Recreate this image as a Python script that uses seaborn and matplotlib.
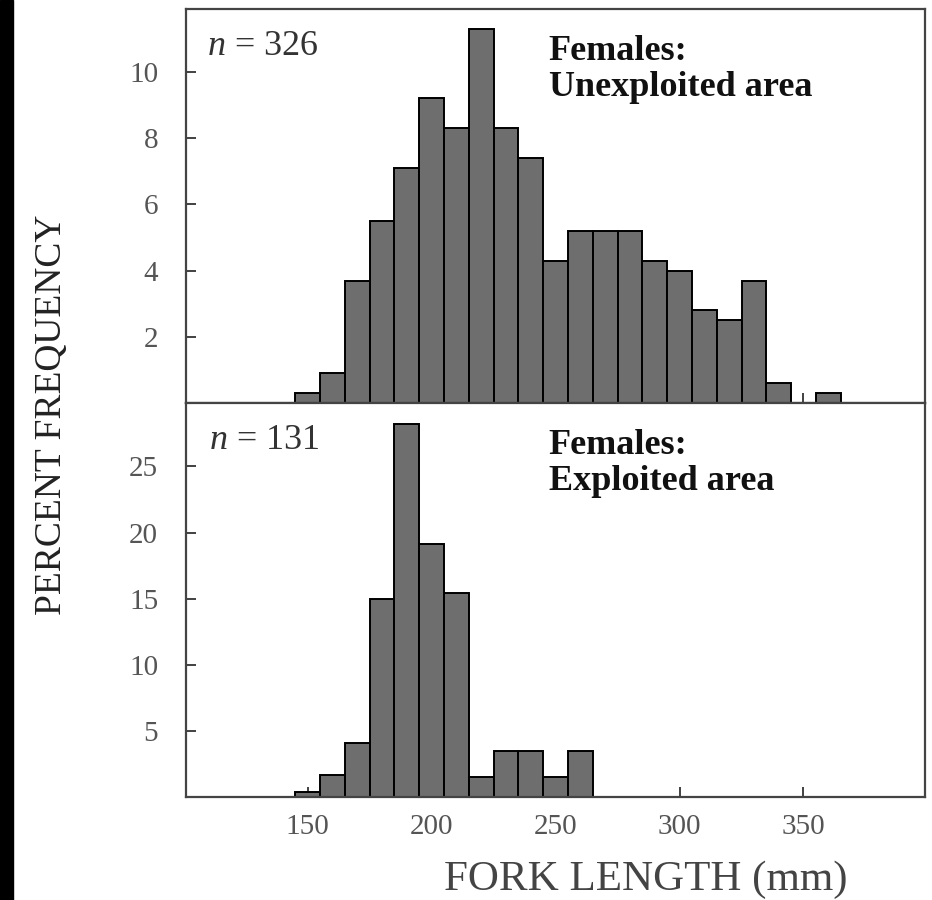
import numpy as np
import pandas as pd
import matplotlib
matplotlib.use("Agg")
import matplotlib.pyplot as plt
import seaborn as sns
from matplotlib.patches import Rectangle

# Dados: centro da classe (mm) e frequência percentual
centros_nao_expl = [150, 160, 170, 180, 190, 200, 210, 220, 230, 240, 250,
                    260, 270, 280, 290, 300, 310, 320, 330, 340, 360]
pct_nao_expl = [0.3, 0.9, 3.7, 5.5, 7.1, 9.2, 8.3, 11.3, 8.3, 7.4, 4.3,
                5.2, 5.2, 5.2, 4.3, 4.0, 2.8, 2.5, 3.7, 0.6, 0.3]

centros_expl = [150, 160, 170, 180, 190, 200, 210, 220, 230, 240, 250, 260]
pct_expl = [0.4, 1.7, 4.1, 15.0, 28.2, 19.1, 15.4, 1.5, 3.5, 3.5, 1.5, 3.5]

n_nao_expl = 326
n_expl = 131
x_ticks = [150, 200, 250, 300, 350]
y_ticks_sup = [2, 4, 6, 8, 10]
y_ticks_inf = [5, 10, 15, 20, 25]

sns.set_style("ticks")
plt.rcParams['font.family'] = ['Liberation Serif', 'DejaVu Serif']
plt.rcParams['mathtext.fontset'] = 'custom'
plt.rcParams['mathtext.it'] = 'Liberation Serif:italic'
plt.rcParams['mathtext.rm'] = 'Liberation Serif'

fig = plt.figure(figsize=(9.32, 9.0), dpi=100)
ax_sup = fig.add_axes([0.1996, 0.5522, 0.7929, 0.4378])
ax_inf = fig.add_axes([0.1996, 0.1144, 0.7929, 0.4378])

# faixa preta da digitalização à esquerda
fig.add_artist(Rectangle((0, 0), 13 / 932, 1, color='black', transform=fig.transFigure))

df_sup = pd.DataFrame({'comprimento': centros_nao_expl, 'pct': pct_nao_expl})
df_inf = pd.DataFrame({'comprimento': centros_expl, 'pct': pct_expl})

estilo_barra = dict(color='#6e6e6e', edgecolor='black', linewidth=1.4, alpha=1)
sns.histplot(data=df_sup, x='comprimento', weights='pct', binwidth=10, binrange=(145, 365),
             ax=ax_sup, **estilo_barra)
sns.histplot(data=df_inf, x='comprimento', weights='pct', binwidth=10, binrange=(145, 265),
             ax=ax_inf, **estilo_barra)

for ax in (ax_sup, ax_inf):
    ax.set_xlim(101, 399)
    ax.set_xticks(x_ticks)
    ax.set_xlabel('')
    ax.set_ylabel('')
    for sp in ax.spines.values():
        sp.set_color('#444444')
        sp.set_linewidth(1.6)
    ax.tick_params(direction='in', length=7, width=1.3, color='#333333',
                   labelcolor='#555555', labelsize=21)
    ax.tick_params(axis='y', pad=20)
    ax.tick_params(axis='x', pad=12)

ax_sup.set_ylim(0, 11.9)
ax_sup.set_yticks(y_ticks_sup)
ax_sup.tick_params(labelbottom=False)

ax_inf.set_ylim(0, 29.8)
ax_inf.set_yticks(y_ticks_inf)

# anotações
ax_sup.text(0.028, 0.905, f'$n$ = {n_nao_expl}', transform=ax_sup.transAxes,
            fontsize=26, color='#333333', va='center', ha='left')
ax_sup.text(0.491, 0.846, 'Females:\nUnexploited area', transform=ax_sup.transAxes,
            fontsize=26, fontweight='bold', color='#111111', va='center', ha='left',
            linespacing=1.12)
ax_inf.text(0.031, 0.905, f'$n$ = {n_expl}', transform=ax_inf.transAxes,
            fontsize=26, color='#333333', va='center', ha='left')
ax_inf.text(0.491, 0.846, 'Females:\nExploited area', transform=ax_inf.transAxes,
            fontsize=26, fontweight='bold', color='#111111', va='center', ha='left',
            linespacing=1.12)

fig.text(646 / 932, 1 - 880 / 900, 'FORK LENGTH (mm)', fontsize=31, color='#444444',
         ha='center', va='center')
fig.text(52 / 932, 1 - 415 / 900, 'PERCENT FREQUENCY', fontsize=27, color='#222222',
         ha='center', va='center', rotation=90)

fig.savefig('out.png', dpi=100)
